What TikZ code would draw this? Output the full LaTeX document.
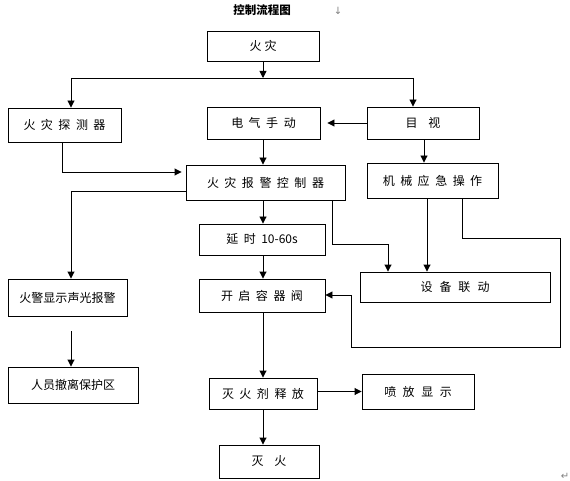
\documentclass[tikz,border=0pt]{standalone}
\usepackage{fontspec}
\setmainfont{Noto Sans CJK SC}
\newfontfamily\symfont{DejaVu Sans}
\usetikzlibrary{arrows.meta}
\newcommand\sk{\hspace{5.5pt}}
\begin{document}
\begin{tikzpicture}[x=1pt,y=-1pt,
  box/.style={draw,line width=0.9pt,inner sep=0pt,font=\fontsize{12}{14}\selectfont},
  conn/.style={line width=0.9pt,-{Triangle[length=7pt,width=7pt]}},
  plain/.style={line width=0.9pt},
  fmark/.style={text=gray,font=\symfont\fontsize{10}{10}\selectfont,inner sep=0pt}]
\useasboundingbox (0,0) rectangle (570,481);
% title
\node[font=\fontsize{11.5}{12}\selectfont\bfseries,inner sep=0pt] (title) at (262,10) {控制流程图};
\node[fmark] (m1) at (338,11) {↓};
\node[fmark] (m2) at (565,476) {↵};
% boxes
\node[box,minimum width=112pt,minimum height=30pt] (fire) at (263,46) {火\hspace{3pt}灾};
\node[box,minimum width=113pt,minimum height=34pt] (det) at (64.5,125) {火\sk 灾\sk 探\sk 测\sk 器};
\node[box,minimum width=113pt,minimum height=32pt] (man) at (263.5,123) {电\sk 气\sk 手\sk 动};
\node[box,minimum width=112pt,minimum height=32pt] (eye) at (423,123) {目\hspace{11pt}视};
\node[box,minimum width=159pt,minimum height=35pt] (ctrl) at (265.5,182.5) {火\sk 灾\sk 报\sk 警\sk 控\sk 制\sk 器};
\node[box,minimum width=131pt,minimum height=35pt] (mech) at (432.5,180.5) {机\sk 械\sk 应\sk 急\sk 操\sk 作};
\node[box,minimum width=126pt,minimum height=31pt] (delay) at (262,239.5) {延\sk 时\sk 10-60s};
\node[box,minimum width=190pt,minimum height=30pt] (link) at (455,287) {设\hspace{7pt}备\hspace{7pt}联\hspace{7pt}动};
\node[box,minimum width=119pt,minimum height=37pt] (alarm) at (67.5,297.5) {火警显示声光报警};
\node[box,minimum width=126pt,minimum height=33pt] (open) at (262,295.5) {开\sk 启\sk 容\sk 器\sk 阀};
\node[box,minimum width=130pt,minimum height=36pt] (evac) at (73,385) {人员撤离保护区};
\node[box,minimum width=108pt,minimum height=31pt] (rel) at (263,393.5) {灭\sk 火\sk 剂\sk 释\sk 放};
\node[box,minimum width=112pt,minimum height=35pt] (spray) at (418,391.5) {喷\hspace{6.5pt}放\hspace{6.5pt}显\hspace{6.5pt}示};
\node[box,minimum width=100pt,minimum height=33pt] (ext) at (269,461.5) {灭\hspace{11pt}火};
% coordinates
\coordinate (spine) at (263,0);
\coordinate (j) at (263,78);
\coordinate (jl) at (71,78);
\coordinate (jr) at (413,78);
\coordinate (d1) at (62,0);
\coordinate (a1) at (71,191);
\coordinate (b1) at (332,244);
\coordinate (b2) at (388,244);
\coordinate (b3) at (427,0);
\coordinate (c1) at (462,238);
\coordinate (c2) at (560,238);
\coordinate (c3) at (560,347);
\coordinate (c4) at (351,347);
\coordinate (c5) at (351,295);
\coordinate (e1) at (71,331);
\coordinate (e2) at (424,0);
\coordinate (h1) at (0,172);
% connectors
\draw[conn] (spine |- fire.south) -- (j);
\draw[plain] (jl) -- (jr);
\draw[conn] (jl) -- (jl |- det.north);
\draw[conn] (jr) -- (jr |- eye.north);
\draw[conn,shorten >=7pt] (eye.west) -- (man.east);
\draw[conn] (spine |- man.south) -- (spine |- ctrl.north);
\draw[conn] (e2 |- eye.south) -- (e2 |- mech.north);
\draw[conn,shorten >=4pt] (d1 |- det.south) |- (ctrl.west |- h1);
\draw[conn] (ctrl.west |- a1) -- (a1) -- (a1 |- alarm.north);
\draw[conn] (spine |- ctrl.south) -- (spine |- delay.north);
\draw[conn] (b1 |- ctrl.south) -- (b1) -- (b2) -- (b2 |- link.north);
\draw[conn] (b3 |- mech.south) -- (b3 |- link.north);
\draw[conn] (c1 |- mech.south) -- (c1) -- (c2) -- (c3) -- (c4) -- (c5) -- (c5 -| open.east);
\draw[conn] (spine |- delay.south) -- (spine |- open.north);
\draw[conn] (e1) -- (e1 |- evac.north);
\draw[conn] (spine |- open.south) -- (spine |- rel.north);
\draw[conn] (rel.east |- spray.west) -- (spray.west);
\draw[conn] (spine |- rel.south) -- (spine |- ext.north);
\end{tikzpicture}
\end{document}
